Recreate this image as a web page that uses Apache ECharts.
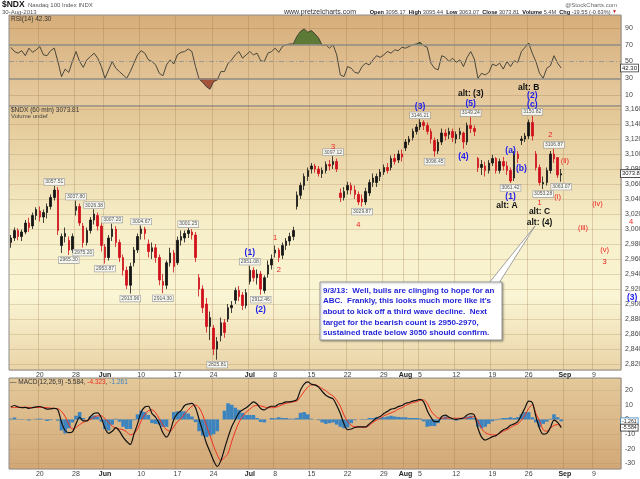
<!DOCTYPE html>
<html>
<head>
<meta charset="utf-8">
<script src="https://cdn.jsdelivr.net/npm/echarts@6/dist/echarts.min.js"></script>
<style>
html, body { margin: 0; padding: 0; background: #fff; }
#chart { width: 640px; height: 479px; }
</style>
</head>
<body>
<div id="chart"></div>
<script>
/** 数据 */
// trading days (two sessions each, 7/3 is a half day)
var tradingDays = ['5/14','5/15','5/16','5/17','5/20','5/21','5/22','5/23','5/24','5/28','5/29','5/30','5/31',
  '6/3','6/4','6/5','6/6','6/7','6/10','6/11','6/12','6/13','6/14','6/17','6/18','6/19','6/20','6/21','6/24','6/25','6/26','6/27','6/28',
  '7/1','7/2','7/3','7/5','7/8','7/9','7/10','7/11','7/12','7/15','7/16','7/17','7/18','7/19','7/22','7/23','7/24','7/25','7/26','7/29','7/30','7/31',
  '8/1','8/2','8/5','8/6','8/7','8/8','8/9','8/12','8/13','8/14','8/15','8/16','8/19','8/20','8/21','8/22','8/23','8/26','8/27','8/28','8/29','8/30']
var halfDays = ['7/3']
var futureDays = ['9/3','9/4','9/5','9/6','9/9','9/10','9/11','9/12']

// x tick labels
var tickDays = ['5/20','5/28','6/3','6/10','6/17','6/24','7/1','7/8','7/15','7/22','7/29','8/1','8/5','8/12','8/19','8/26','9/3','9/9']
var tickLabels = ['20','28','Jun','10','17','24','Jul','8','15','22','29','Aug','5','12','19','26','Sep','9']
var monthLabels = ['Jun','Jul','Aug','Sep']

// $NDX 60 min, grouped per half session: [open, close, low, high]
var ohlc = [
  [2982,2988,2975,2992],[2988,2998,2984,3002],[2998,2990,2985,3001],[2990,2996,2984,2999],
  [2996,3008,2993,3012],[3008,3002,2996,3015],[3004,3018,3000,3022],[3018,3026,3012,3029],
  [3024,3016,3010,3030],[3016,3022,3008,3026],[3022,3030,3014,3034],[3030,3042,3026,3046],
  [3042,3052,3038,3057.51],[3052,2998,2992,3056],[2978,2990,2968,2994],[2990,2994,2982,3002],
  [2985,2972,2965.30,2990],[2972,2990,2968,2994],[3025,3030,3018,3037.80],[3030,3008,3004,3034],
  [3004,2982,2975.20,3008],[2982,2998,2978,3002],[2998,3012,2994,3016],[3012,3020,3006,3026.38],
  [3018,3004,2998,3022],[3004,2978,2970,3008],[2976,2962,2953.87,2980],[2962,2988,2958,2992],
  [2990,3000,2984,3007.20],[3000,2982,2976,3004],[2982,2962,2956,2986],[2962,2945,2938,2966],
  [2945,2925,2920,2950],[2925,2950,2913.96,2955],[2955,2972,2950,2976],[2972,2990,2968,2994],
  [2994,3000,2986,3004.67],[3000,2994,2986,3003],[2980,2970,2962,2986],[2970,2975,2960,2982],
  [2975,2962,2955,2980],[2962,2932,2925,2966],[2930,2925,2914.30,2940],[2925,2955,2920,2958],
  [2955,2968,2950,2975],[2968,2950,2942,2972],[2955,2985,2952,2990],[2985,2990,2978,2998],
  [2988,2994,2982,2998],[2994,2998,2988,3001.25],[2996,2992,2986,3000],[2992,2962,2956,2996],
  [2935,2920,2910,2940],[2920,2895,2888,2925],[2900,2870,2862,2908],[2870,2882,2852,2890],
  [2868,2840,2832,2872],[2840,2850,2825.81,2856],[2858,2875,2850,2882],[2875,2862,2855,2880],
  [2880,2895,2876,2900],[2895,2898,2888,2904],[2905,2918,2900,2922],[2918,2910,2904,2924],
  [2912,2898,2892,2916],[2898,2915,2894,2920],[2930,2945,2926,2951.08],[2945,2935,2930,2949],
  [2935,2940,2926,2946],[2940,2920,2912.46,2944],[2918,2935,2914,2938],
  [2940,2952,2935,2958],[2952,2960,2946,2966],[2968,2972,2962,2978],[2972,2962,2956,2975],
  [2965,2978,2960,2982],[2978,2984,2972,2988],[2984,2990,2978,2995],[2990,2998,2985,3003],
  [3030,3045,3026,3050],[3045,3058,3040,3062],[3058,3070,3052,3074],[3070,3078,3064,3082],
  [3080,3084,3074,3088],[3084,3080,3075,3087],[3080,3074,3070,3084],[3074,3078,3068,3082],
  [3078,3086,3074,3090],[3086,3084,3078,3092],[3086,3090,3080,3097.12],[3090,3080,3076,3094],
  [3048,3042,3036,3054],[3042,3050,3038,3056],[3052,3058,3046,3063],[3058,3052,3046,3062],
  [3052,3046,3040,3058],[3046,3036,3032,3050],[3040,3036,3029.87,3046],[3036,3050,3032,3055],
  [3048,3062,3044,3066],[3062,3068,3056,3074],[3062,3070,3056,3074],[3070,3076,3064,3080],
  [3076,3082,3072,3086],[3082,3078,3074,3088],[3082,3094,3078,3098],[3094,3090,3086,3100],
  [3092,3100,3088,3105],[3100,3096,3090,3106],[3108,3116,3104,3120],[3116,3120,3112,3124],
  [3122,3130,3118,3134],[3130,3136,3126,3140],[3136,3142,3132,3146.21],[3142,3138,3132,3145],
  [3138,3130,3126,3142],[3130,3120,3114,3134],[3118,3104,3096.45,3122],[3104,3116,3100,3120],
  [3116,3128,3112,3134],[3128,3124,3118,3133],[3126,3130,3120,3135],[3130,3122,3116,3134],
  [3120,3126,3114,3130],[3126,3130,3120,3135],[3128,3116,3107,3130],[3116,3138,3112,3142],
  [3138,3134,3128,3149.24],[3134,3130,3124,3138],[3094,3082,3076,3096],[3082,3086,3072,3092],
  [3084,3078,3070,3090],[3078,3088,3074,3092],[3088,3094,3084,3099],[3094,3078,3074,3096],
  [3078,3090,3074,3094],[3090,3084,3078,3096],[3084,3078,3072,3090],[3078,3064,3061.42,3082],
  [3068,3100,3064,3104],[3100,3094,3088,3104],[3118,3120,3112,3124],[3120,3124,3116,3128],
  [3124,3142,3120,3146],[3142,3124,3118,3150.82],[3100,3082,3078,3104],[3082,3062,3058,3086],
  [3060,3062,3053.28,3070],[3062,3078,3058,3082],[3078,3100,3074,3104],[3100,3093.36,3088,3106.87],
  [3095.17,3072,3068,3095.44],[3072,3073.81,3063.07,3080]
]

// RSI(14)
var rsi = [67,62,60,63,57,66,61,64,68,58,57,63,66,50,32,41,37,50,62,50,
  43,52,56,60,54,44,30,40,50,42,38,34,30,38,48,58,63,60,52,50,
  46,36,33,46,52,47,58,61,62,65,62,44,29,25,20,17,26,28,38,38,
  48,52,58,62,54,58,62,58,60,51,50,60,62,66,61,68,70,71,71,80,
  86,89,85,87,83,78,69,70,66,70,58,34,32,44,42,37,36,44,48,46,
  52,57,55,58,62,60,64,63,67,66,68,70,71,73,69,67,48,42,40,57,
  55,50,54,49,52,44,55,62,53,30,36,34,37,47,45,48,41,50,44,51,
  49,62,67,72,60,50,36,30,42,45,57,48,42.30]

// MACD(12,26,9)
var macd = [8.5,9.5,8.5,8,8.2,7.5,8,8.5,8.8,8,7,7.2,7.5,6.5,-2,-7.5,-9,-8.5,-3,1.5,
  -1,-1,2,4.2,4.5,1,-6,-9.5,-8,-5.5,-8,-12,-15,-17,-10,-3,5,8.5,9,4,
  1.5,-3,-9,-12,-8,0,4,6,9.5,10.5,11,8,0,-8,-16,-22,-28,-32,-28,-20,
  -12,-5,0,4.5,6.5,8,10,12,10.5,7.5,6.5,8,9,9,10.5,11,12,12,12.5,13.5,
  20,24,25.5,24,23.5,22,19,16.5,15,14,9.5,4,-3,-7,-6.5,-5.5,-5,-5,-5,-3,
  -1,1,2,4,5.5,7,7.5,8.7,9.5,11,11.5,12.5,13,13.7,12,6,1.5,-1.5,-1.5,2,
  3,1.5,0.5,0,0.5,1,3,4,3,-6,-12,-14,-13,-11.7,-11,-9,-7,-6,-4,-3,
  -1.5,3,8,12.5,11.5,2,-6,-10,-9.5,-5.5,-0.5,-2,-5.584]
var signal = [8,8.2,8.3,8.3,8.3,8.2,8.1,8.1,8.2,8.2,8,7.7,7.5,7.3,5.5,2,-3,-6.5,-5.5,-3.5,
  -2,-1,0,1.5,2.5,2.5,0.5,-2,-4.5,-6,-6.5,-7,-8.5,-10.5,-9.5,-6.5,-1,3.5,6,6.5,
  4.5,0.5,-4,-7,-8,-5,-1.5,0.5,4,6.5,9,9.8,8,3,-4,-11,-18,-24,-28,-26,
  -23,-15,-8,-2,2,5,7,9,9.5,9.2,8.5,8,8,8.2,9,10,11,11.5,12,12.5,
  15.5,19,22,23.5,23.5,22.5,21,19.5,17.5,16,13,9,3,-1.5,-4,-5,-5,-5.3,-5.3,-4,
  -2,-0.5,0.8,2.5,3.5,4.5,5.5,7,8,9.5,10.5,11.5,12,13,13.3,11,6,3,1,0.8,
  1,1,0.8,0.8,0.8,0.8,1,1.5,2,-1,-6,-9,-10,-10.5,-10.5,-9.5,-8,-7,-5.5,-4,
  -3,-0.5,3,7.5,10,4,-1,-7,-8,-6,-4,-3.5,-4.323]
var hist = [0.5,1.3,0.2,-0.3,-0.1,-0.7,-0.1,0.4,0.6,-0.2,-1,-0.5,0,-0.8,-7.5,-9.5,-6,-2,2.5,5,
  1,0,2,2.7,2,-1.5,-6.5,-7.5,-3.5,0.5,-1.5,-5,-6.5,-6.5,-0.5,3.5,6,5,3,-2.5,
  -3,-3.5,-5,-5,0,5,5.5,5.5,5.5,4,2,-1.8,-8,-11,-12,-11,-10,-8,0,6,
  11,10,8,6.5,4.5,3,3,3,1,-1.7,-2,0,1,0.8,1.5,1,1,0.5,0.5,1,
  4.5,5,3.5,0.5,0,-0.5,-2,-3,-2.5,-2,-3.5,-5,-6,-5.5,-2.5,-0.5,0,0.3,0.3,1,
  1,1.5,1.2,1.5,2,2.5,2,1.7,1.5,1.5,1,1,1,0.7,-1.3,-5,-4.5,-4.5,-2.5,1.2,
  2,0.5,-0.3,-0.8,-0.3,0.2,2,2.5,1,-5,-6,-5,-3,-1.2,-0.5,0.5,1,1,1.5,1,
  1.5,3.5,5,5,1.5,-2,-5,-3,-1.5,0.5,3.5,1.5,-1.261]

// price boxes on swing highs / lows: [session, price]
var highTags = [['5/22a',3057.51],['5/28a',3037.80],['5/30p',3026.38],['6/4a',3007.20],['6/10a',3004.67],['6/18p',3001.25],
  ['7/1a',2951.08],['7/18a',3097.12],['8/5a',3146.21],['8/14a',3149.24],['8/26p',3150.82],['8/29p',3106.87]]
var lowTags = [['5/24a',2965.30],['5/29a',2975.20],['6/3a',2953.87],['6/6p',2913.96],['6/13a',2914.30],['6/24p',2825.81],
  ['7/2p',2912.46],['7/24a',3029.87],['8/7a',3096.45],['8/21p',3061.42],['8/28a',3053.28],['8/30p',3063.07]]

// wave count labels: [session, price, text, colour key, x shift, y shift]
var waveMarks = [
  ['7/1a',2968,'(1)','b'],['7/2p',2893,'(2)','b'],['7/8a',2988,'1','r'],['7/8p',2945,'2','r'],
  ['7/18a',3109,'3','r'],['7/23p',3005,'4','r'],['8/5a',3163,'(3)','b'],['8/13a',3097,'(4)','b'],
  ['8/14a',3162,'(5)','b',0,-4],['8/14a',3162,'alt: (3)','k',0,-14],['8/21p',3104,'(a)','b'],['8/23a',3080,'(b)','b'],
  ['8/21p',3043,'(1)','b'],['8/21a',3031,'alt: A','k'],['8/26p',3162,'(2)','b',0,-12],['8/26p',3162,'(c)','b',0,-3],
  ['8/26a',3162,'alt: B','k',0,-20],['8/27p',3035,'1','r'],['8/27p',3023,'alt: C','k'],['8/27p',3009,'alt: (4)','k'],
  ['8/29a',3125,'2','r'],['9/3a',3091,'(ii)','r'],['8/30a',3043,'(i)','r'],['9/5p',3001,'(iii)','r'],
  ['9/9p',3033,'(iv)','r'],['9/10p',2972,'(v)','r'],['9/10p',2956,'3','r'],
  ['9/12p',3009,'4','r',12],['9/12p',2909,'(3)','b',13]
]
var lastClose = 3073.81
var lastRsi = 42.30
var noteLines = ['9/3/13:  Well, bulls are clinging to hope for an',
  'ABC.  Frankly, this looks much more like it\'s',
  'about to kick off a third wave decline.  Next',
  'target for the bearish count is 2950-2970,',
  'sustained trade below 3050 should confirm.']

/** 处理 */
var sessions = []
tradingDays.concat(futureDays).forEach(function(d) {
  sessions.push(d + 'a')
  if (halfDays.indexOf(d) < 0) sessions.push(d + 'p')
})
var tickSessions = tickDays.map(function(d) { return d + 'a' })
var waveColors = {b: '#1c1cf0', r: '#ee1c1c', k: '#111'}
var FONT = 'Liberation Sans, Arial, sans-serif'

var L = 9, R = 19

var isTick = function(i, v) { return tickSessions.indexOf(v) >= 0 }

var makeXAxis = function(gridIndex, showLabel) {
  return {
    type: 'category', gridIndex: gridIndex, data: sessions, boundaryGap: true,
    axisLine: {show: false}, axisTick: {show: false},
    axisLabel: {
      show: showLabel, interval: isTick, margin: 2, fontSize: 7, color: '#444',
      formatter: function(v) {
        var t = tickLabels[tickSessions.indexOf(v)]
        return monthLabels.indexOf(t) >= 0 ? '{m|' + t + '}' : t
      },
      rich: {m: {fontWeight: 'bold', fontSize: 7, color: '#222'}}
    },
    splitLine: {show: true, interval: isTick, lineStyle: {color: 'rgba(150,115,70,0.28)', width: 1}}
  }
}

var grad = function(stops) {
  return new echarts.graphic.LinearGradient(0, 0, 0, 1, stops.map(function(s) { return {offset: s[0], color: s[1]} }))
}

var tagPoints = []
highTags.forEach(function(t) {
  tagPoints.push({coord: [t[0], t[1]], label: {offset: [0, -4], formatter: t[1].toFixed(2)}})
})
lowTags.forEach(function(t) {
  tagPoints.push({coord: [t[0], t[1]], label: {offset: [0, 5], formatter: t[1].toFixed(2)}})
})
tagPoints.forEach(function(p) {
  p.label.show = true
  p.label.position = 'inside'
  p.label.fontSize = 5
  p.label.color = '#555'
  p.label.backgroundColor = '#f7f7f2'
  p.label.borderColor = '#9a9a9a'
  p.label.borderWidth = 0.6
  p.label.padding = [1, 1, 0, 1]
})
var wavePoints = waveMarks.map(function(w) {
  return {
    coord: [w[0], w[1]],
    label: {
      show: true, position: 'inside', offset: [w[4] || 0, w[5] || 0], formatter: w[2],
      color: waveColors[w[3]], fontSize: w[3] === 'r' ? 7.5 : 8.5,
      fontWeight: w[3] === 'r' ? 'normal' : 'bold'
    }
  }
})

var valueBox = function(v, txt, color, size) {
  return {
    yAxis: v, lineStyle: {color: 'rgba(0,0,0,0)', width: 0},
    label: {show: true, position: 'end', distance: 0, formatter: txt, fontSize: size || 6, color: '#222',
      backgroundColor: '#fff', borderColor: color || '#333', borderWidth: 0.8, padding: [1, 1, 0, 1]}
  }
}

var option = {
  animation: false,
  backgroundColor: '#fff',
  textStyle: {fontFamily: FONT},
  grid: [
    {left: L, right: R, top: 15, height: 91, show: true, borderColor: '#8d8d8d', borderWidth: 1, outerBoundsMode: 'none',
      backgroundColor: grad([[0, '#d6ad7a'], [1, '#e7cca1']])},
    {left: L, right: R, top: 106, height: 264, show: true, borderColor: '#8d8d8d', borderWidth: 1, outerBoundsMode: 'none',
      backgroundColor: grad([[0, '#e2c593'], [0.45, '#f6eec8'], [0.72, '#faf5d4'], [1, '#ead4a7']])},
    {left: L, right: R, top: 378, height: 91, show: true, borderColor: '#8d8d8d', borderWidth: 1, outerBoundsMode: 'none',
      backgroundColor: grad([[0, '#e4c99b'], [1, '#d2a776']])}
  ],
  xAxis: [makeXAxis(0, false), makeXAxis(1, true), makeXAxis(2, true)],
  yAxis: [
    {type: 'value', gridIndex: 0, position: 'right', min: -3.1, max: 105.6,
      axisLine: {show: false}, axisTick: {show: false, customValues: [10, 30, 50, 70, 90]},
      axisLabel: {customValues: [10, 30, 50, 70, 90], fontSize: 7, color: '#444', margin: 4},
      splitLine: {show: false}},
    {type: 'value', gridIndex: 1, position: 'right', min: 2812, max: 3164, splitNumber: 17,
      axisLine: {show: false}, axisTick: {show: false},
      axisLabel: {fontSize: 7, color: '#444', margin: 4, showMinLabel: false, showMaxLabel: false},
      splitLine: {lineStyle: {color: 'rgba(160,125,80,0.25)', width: 1}}},
    {type: 'value', gridIndex: 2, position: 'right', min: -33.7, max: 28.2, splitNumber: 6,
      axisLine: {show: false}, axisTick: {show: false},
      axisLabel: {fontSize: 7, color: '#444', margin: 4, showMinLabel: false, showMaxLabel: false},
      splitLine: {lineStyle: {color: 'rgba(160,125,80,0.18)', width: 1}}}
  ],
  series: [
    {
      name: 'RSI fill up', type: 'line', xAxisIndex: 0, yAxisIndex: 0, showSymbol: false, silent: true,
      data: rsi.map(function(v) { return Math.max(v, 70) }),
      lineStyle: {opacity: 0}, areaStyle: {origin: 70, color: '#5d7b36', opacity: 1}, z: 1
    },
    {
      name: 'RSI fill down', type: 'line', xAxisIndex: 0, yAxisIndex: 0, showSymbol: false, silent: true,
      data: rsi.map(function(v) { return Math.min(v, 30) }),
      lineStyle: {opacity: 0}, areaStyle: {origin: 30, color: '#a4533b', opacity: 1}, z: 1
    },
    {
      name: 'RSI', type: 'line', xAxisIndex: 0, yAxisIndex: 0, showSymbol: false, data: rsi,
      lineStyle: {color: '#3a3a32', width: 0.9}, z: 3,
      markLine: {
        silent: true, symbol: 'none', animation: false, label: {show: false},
        data: [
          {yAxis: 90, lineStyle: {color: 'rgba(150,115,70,0.28)', width: 1, type: 'solid'}},
          {yAxis: 70, lineStyle: {color: '#8e8c84', width: 1.5, type: 'solid'}},
          {yAxis: 50, lineStyle: {color: '#9c988c', width: 1, type: [5, 2, 1, 2]}},
          {yAxis: 30, lineStyle: {color: '#8e8c84', width: 1.5, type: 'solid'}},
          {yAxis: 10, lineStyle: {color: 'rgba(150,115,70,0.28)', width: 1, type: 'solid'}},
          valueBox(lastRsi, lastRsi.toFixed(2))
        ]
      }
    },
    {
      name: '$NDX', type: 'candlestick', xAxisIndex: 1, yAxisIndex: 1, data: ohlc, barWidth: 2,
      itemStyle: {color: '#151515', color0: '#d0101c', borderColor: '#151515', borderColor0: '#d0101c', borderWidth: 0.8},
      markPoint: {
        symbol: 'rect', symbolSize: 1, itemStyle: {color: 'rgba(0,0,0,0)'}, silent: true, animation: false,
        data: tagPoints.concat(wavePoints)
      },
      markLine: {silent: true, symbol: 'none', animation: false, data: [valueBox(lastClose, lastClose.toFixed(2), '#333', 5.8)]}
    },
    {
      name: 'Hist', type: 'bar', xAxisIndex: 2, yAxisIndex: 2, data: hist, barCategoryGap: '0%',
      itemStyle: {color: '#3b84bf'}
    },
    {
      name: 'MACD', type: 'line', xAxisIndex: 2, yAxisIndex: 2, data: macd, showSymbol: false, smooth: 0.3,
      lineStyle: {color: '#111', width: 1.2}, z: 4,
      markLine: {silent: true, symbol: 'none', animation: false, data: [
        valueBox(hist[hist.length - 1], hist[hist.length - 1].toFixed(3), '#3b84bf', 5.2),
        valueBox(macd[macd.length - 1], macd[macd.length - 1].toFixed(3), '#333', 5.2)
      ]}
    },
    {
      name: 'Signal', type: 'line', xAxisIndex: 2, yAxisIndex: 2, data: signal, showSymbol: false, smooth: 0.3,
      lineStyle: {color: '#f0301e', width: 1}, z: 3
    }
  ],
  graphic: [
    {type: 'text', x: 2, y: 5, style: {text: '{a|$NDX} {c|Nasdaq 100 Index INDX}', verticalAlign: 'middle', textVerticalAlign: 'middle',
      rich: {a: {fontSize: 8.5, fontWeight: 'bold', fill: '#111', fontFamily: FONT}, c: {fontSize: 6, fill: '#555', fontFamily: FONT}}}},
    {type: 'text', x: 2, y: 12, style: {text: '30-Aug-2013', font: '6px ' + FONT, fill: '#555', verticalAlign: 'middle', textVerticalAlign: 'middle'}},
    {type: 'text', x: 284, y: 12, style: {text: 'www.pretzelcharts.com', font: '7px ' + FONT, fill: '#333', verticalAlign: 'middle', textVerticalAlign: 'middle'}},
    {type: 'text', x: 617, y: 12, style: {
      text: '{b|Open} 3095.17  {b|High} 3095.44  {b|Low} 3063.07  {b|Close} 3073.81  {b|Volume} 5.4M  {b|Chg} -19.55 (-0.63%) {r|▼}',
      align: 'right', textAlign: 'right', verticalAlign: 'middle', textVerticalAlign: 'middle', fontSize: 5.6, fontFamily: FONT, fill: '#444',
      rich: {b: {fontWeight: 'bold', fontSize: 5.6, fill: '#111', fontFamily: FONT}, r: {fontSize: 5, fill: '#d0101c'}}}},
    {type: 'text', x: 617, y: 5, style: {text: '@StockCharts.com', font: '6px ' + FONT, fill: '#666', align: 'right', textAlign: 'right', verticalAlign: 'middle', textVerticalAlign: 'middle'}},
    {type: 'text', x: 11, y: 19, style: {text: 'RSI(14) 42.30', font: '6.5px ' + FONT, fill: '#333', verticalAlign: 'middle', textVerticalAlign: 'middle'}},
    {type: 'text', x: 11, y: 110, style: {text: '$NDX (60 min) 3073.81', font: '6.5px ' + FONT, fill: '#333', verticalAlign: 'middle', textVerticalAlign: 'middle'}},
    {type: 'text', x: 11, y: 116, style: {text: 'Volume undef', font: '6px ' + FONT, fill: '#444', verticalAlign: 'middle', textVerticalAlign: 'middle'}},
    {type: 'text', x: 10, y: 382, style: {
      text: '— MACD(12,26,9) -5.584, {r|-4.323}, {b|-1.261}', fontSize: 6.5, fontFamily: FONT, fill: '#333', verticalAlign: 'middle', textVerticalAlign: 'middle',
      rich: {r: {fill: '#f0301e', fontSize: 6.5, fontFamily: FONT}, b: {fill: '#3b84bf', fontSize: 6.5, fontFamily: FONT}}}},
    {type: 'polygon', shape: {points: [[489, 283], [499, 283], [535, 226]]},
      style: {fill: '#fff', stroke: '#8a8a8a', lineWidth: 0.8}, z: 50},
    {type: 'rect', shape: {x: 320, y: 282, width: 182, height: 58},
      style: {fill: '#fff', stroke: '#8a8a8a', lineWidth: 0.8, shadowBlur: 2, shadowOffsetX: 1, shadowOffsetY: 1, shadowColor: 'rgba(0,0,0,0.35)'}, z: 51},
    {type: 'text', x: 323, y: 285, z: 52, style: {text: noteLines.join('\n'), font: 'bold 8px ' + FONT, fill: '#2424d8', lineHeight: 10.7}}
  ]
}

var myChart = echarts.init(document.getElementById('chart'))
myChart.setOption(option)
</script>
</body>
</html>
